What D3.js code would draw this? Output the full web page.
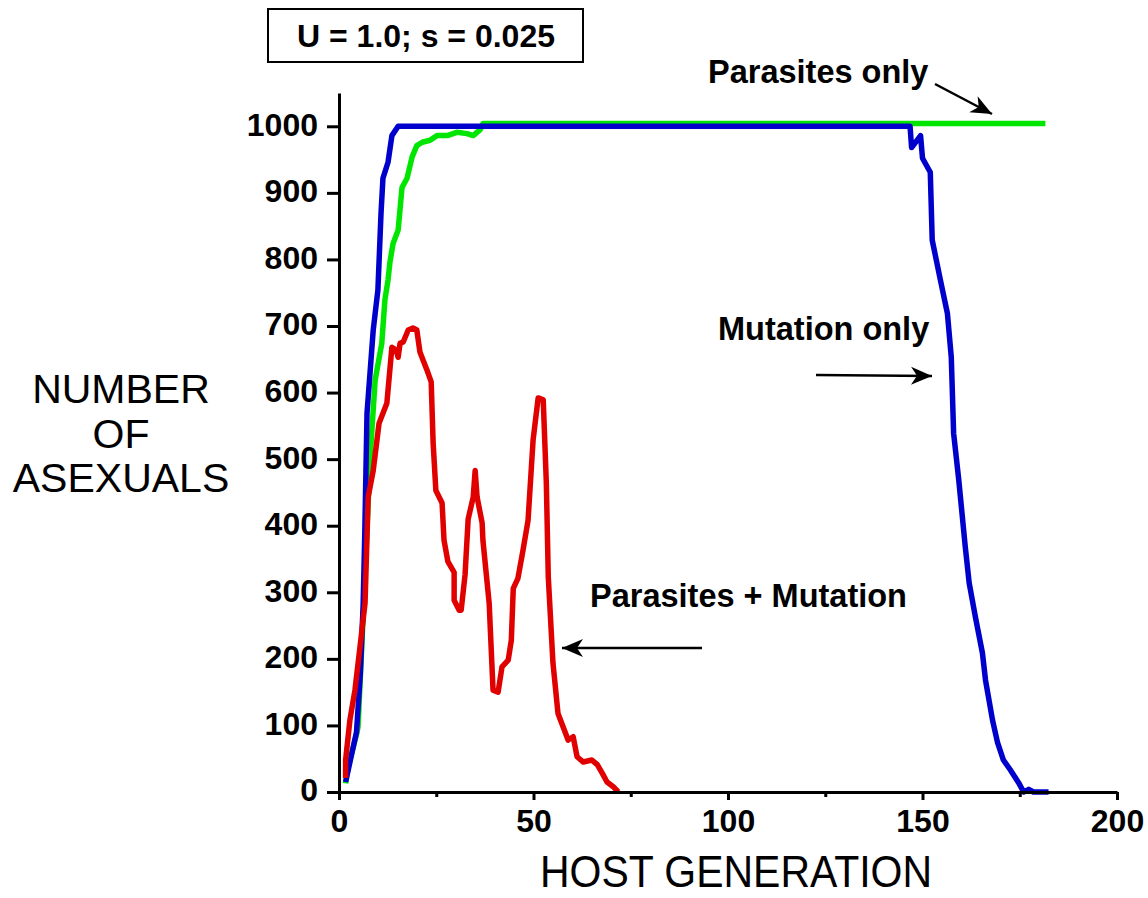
<!DOCTYPE html>
<html>
<head>
<meta charset="utf-8">
<script src="https://cdn.jsdelivr.net/npm/d3@7"></script>
<style>
  body { margin: 0; background: #fff; }
  text { font-family: Arial, "Liberation Sans", sans-serif; fill: #000; }
  .tick text { font-weight: bold; font-size: 32px; }
  .axis path, .axis line { stroke: #000; stroke-width: 3; }
  .line { fill: none; stroke-width: 5.5; stroke-linejoin: round; }
  .note { font-weight: bold; font-size: 32.5px; }
</style>
</head>
<body>
<script>
// [host generation, number of asexuals]
var parasitesOnly = [[1.7,13],[2.3,36],[4.6,89],[4.9,98],[6.5,300],[8,503],[9.3,619],[11,674],[11.8,739],
  [12.6,769],[13.1,796],[13.9,824],[15.2,844],[16.2,908],[17.5,922],[18.8,954],[20,971],[21.4,976],
  [23.4,979],[25.2,986],[27.8,986],[30.3,991],[32.9,989],[34.5,986],[36.3,995],[37,1004],[181.6,1004]];

var mutationOnly = [[1.7,15],[3,50],[4.5,90],[5.5,180],[6.2,280],[6.6,380],[7.2,569],[8.8,694],[10,754],
  [10.8,869],[11.3,922],[12.6,946],[13.6,986],[15.2,1000],[146.8,1000],[147.2,968],[149.5,986],[150,952],
  [152,931],[152.5,829],[154.6,769],[156.4,719],[157.4,653],[158,539],[159.3,470],[161,368],[162,314],
  [163.6,263],[165.4,209],[166.2,168],[168,108],[169.3,74],[170.8,48],[172.6,33],[174.7,14],[176,0],
  [177.3,4],[178.5,0],[182.4,0]];

var parasitesMutation = [[1.7,21],[1.7,48],[2.8,108],[4.1,153],[5.4,218],[6.7,284],[7.5,443],[8.8,483],
  [10.3,554],[11.3,569],[12.3,584],[13.6,668],[14.7,664],[15.2,653],[15.7,674],[16.5,676],[17.8,694],
  [19,697],[20,694],[20.8,661],[22.6,634],[23.7,616],[24.2,524],[24.9,453],[26.5,434],[27,378],[28,346],
  [29.6,330],[29.6,288],[30.9,273],[31.4,273],[32.4,326],[33.2,410],[34.5,443],[35,483],[35.5,443],
  [36.8,404],[37,378],[38.6,284],[39.6,153],[40.9,150],[41.9,188],[43.5,198],[44.3,228],[44.8,306],
  [46,321],[47.3,363],[48.6,408],[49.9,529],[51.2,592],[52.5,589],[53.3,464],[53.8,323],[55,194],
  [56.3,118],[57.6,98],[58.9,78],[60.2,83],[61.2,53],[62.8,45],[65,48],[66.4,41],[67.7,28],[68.9,15],
  [70.5,8],[71.8,0]];

var xTicks = [0, 50, 100, 150, 200];
var xMinor = [25, 75, 125, 175];
var yTicks = [0, 100, 200, 300, 400, 500, 600, 700, 800, 900, 1000];
var title = "U = 1.0; s = 0.025";

var W = 1148, H = 898;
var x = d3.scaleLinear().domain([0, 200]).range([339, 1117]);
var y = d3.scaleLinear().domain([0, 1050]).range([792, 93]);

var svg = d3.select("body").append("svg")
    .attr("width", W)
    .attr("height", H);

// curves (green under blue, red on top)
var line = d3.line()
    .x(function(d) { return x(d[0]); })
    .y(function(d) { return y(d[1]); });

svg.append("path").datum(parasitesOnly).attr("class", "line")
    .attr("stroke", "#00e600").attr("d", line);
svg.append("path").datum(mutationOnly).attr("class", "line")
    .attr("stroke", "#0000cc").attr("d", line);
svg.append("path").datum(parasitesMutation).attr("class", "line")
    .attr("stroke", "#e00000").attr("d", line);

// axes
svg.append("g")
    .attr("class", "axis")
    .attr("transform", "translate(0," + y(0) + ")")
    .call(d3.axisBottom(x).tickValues(xTicks).tickSize(8).tickSizeOuter(0).tickPadding(9));
svg.append("g")
    .attr("class", "axis")
    .attr("transform", "translate(0," + y(0) + ")")
    .call(d3.axisBottom(x).tickValues(xMinor).tickSize(5).tickFormat(""))
    .select(".domain").remove();

var yAxis = svg.append("g")
    .attr("class", "axis")
    .attr("transform", "translate(" + x(0) + ",0)")
    .call(d3.axisLeft(y).tickValues(yTicks).tickFormat(d3.format("d"))
      .tickSize(12).tickSizeOuter(0).tickPadding(9));
yAxis.selectAll(".tick text").attr("dy", "0.28em");

svg.selectAll(".axis text").style("fill", "#000");

// axis titles
svg.append("text")
    .attr("x", 540).attr("y", 887)
    .attr("textLength", 392).attr("lengthAdjust", "spacingAndGlyphs")
    .style("font-size", "44px")
    .text("HOST GENERATION");

var yl = svg.append("text")
    .attr("text-anchor", "middle")
    .style("font-size", "41px");
["NUMBER", "OF", "ASEXUALS"].forEach(function(s, i) {
  yl.append("tspan").attr("x", 121).attr("y", 403 + i * 44.5).text(s);
});

// title box
svg.append("rect")
    .attr("x", 268).attr("y", 9).attr("width", 315).attr("height", 53)
    .attr("fill", "none").attr("stroke", "#000").attr("stroke-width", 2);
svg.append("text")
    .attr("x", 426).attr("y", 47)
    .attr("text-anchor", "middle")
    .style("font-weight", "bold").style("font-size", "32px")
    .text(title);

// annotations
svg.append("defs").append("marker")
    .attr("id", "head")
    .attr("viewBox", "-22 -10 24 20")
    .attr("markerWidth", 24).attr("markerHeight", 20)
    .attr("markerUnits", "userSpaceOnUse")
    .attr("refX", 0).attr("refY", 0)
    .attr("orient", "auto")
  .append("path")
    .attr("d", "M0,0L-21,-9L-15,0L-21,9Z")
    .attr("fill", "#000");

function note(label, tx, ty, x1, y1, x2, y2) {
  svg.append("text").attr("class", "note").attr("x", tx).attr("y", ty).text(label);
  svg.append("line")
      .attr("x1", x1).attr("y1", y1).attr("x2", x2).attr("y2", y2)
      .attr("stroke", "#000").attr("stroke-width", 2.5)
      .attr("marker-end", "url(#head)");
}
note("Parasites only", 708, 83, 935, 84, 992, 114);
note("Mutation only", 718, 340, 816, 375, 932, 376);
note("Parasites + Mutation", 590, 607, 702, 648, 562, 648);
</script>
</body>
</html>
